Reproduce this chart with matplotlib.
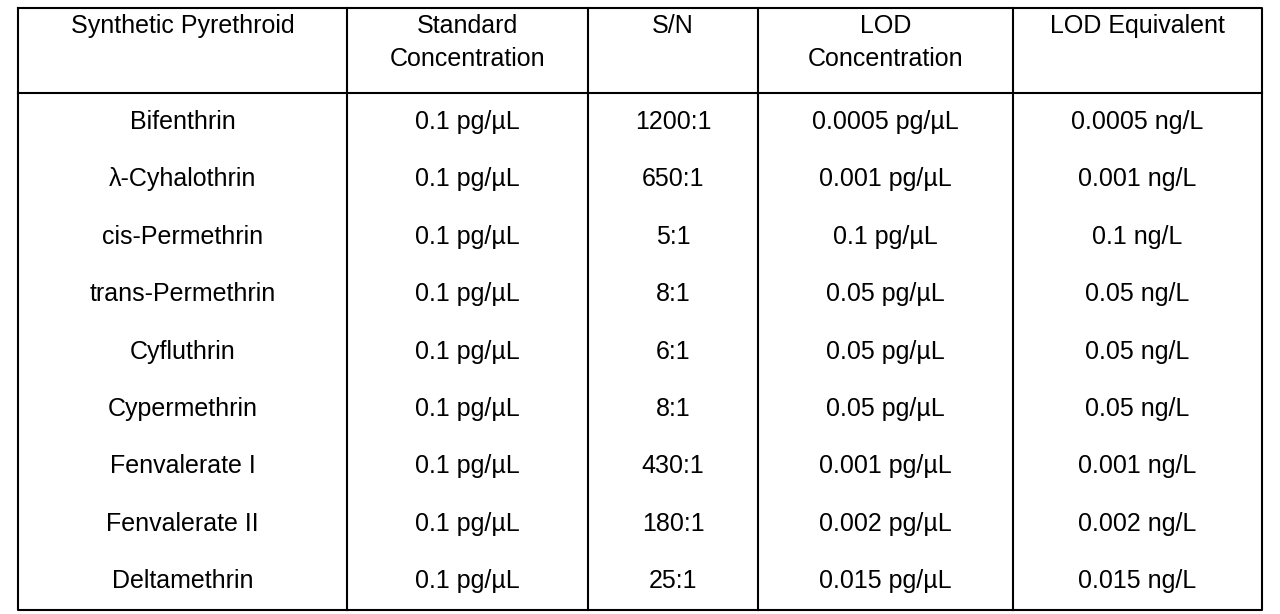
import matplotlib.pyplot as plt

headers = ["Synthetic Pyrethroid", "Standard\nConcentration", "S/N", "LOD\nConcentration", "LOD Equivalent"]
compounds = ["Bifenthrin", "λ-Cyhalothrin", "cis-Permethrin", "trans-Permethrin", "Cyfluthrin",
             "Cypermethrin", "Fenvalerate I", "Fenvalerate II", "Deltamethrin"]
std_conc = ["0.1 pg/µL"] * 9
sn = ["1200:1", "650:1", "5:1", "8:1", "6:1", "8:1", "430:1", "180:1", "25:1"]
lod_conc = ["0.0005 pg/µL", "0.001 pg/µL", "0.1 pg/µL", "0.05 pg/µL", "0.05 pg/µL",
            "0.05 pg/µL", "0.001 pg/µL", "0.002 pg/µL", "0.015 pg/µL"]
lod_eq = ["0.0005 ng/L", "0.001 ng/L", "0.1 ng/L", "0.05 ng/L", "0.05 ng/L",
          "0.05 ng/L", "0.001 ng/L", "0.002 ng/L", "0.015 ng/L"]

col_edges = [18, 347, 588, 758, 1013, 1262]
top, head_bottom, bottom = 8, 93, 610
row_y0, row_step = 122, 57.4

fig = plt.figure(figsize=(12.8, 6.14), dpi=100)
ax = fig.add_axes([0, 0, 1, 1])
ax.set_xlim(0, 1280)
ax.set_ylim(614, 0)
ax.axis("off")

lw = 1.5
ax.plot([col_edges[0], col_edges[-1], col_edges[-1], col_edges[0], col_edges[0]],
        [top, top, bottom, bottom, top], color="black", lw=lw)
for x in col_edges[1:-1]:
    ax.plot([x, x], [top, bottom], color="black", lw=lw)
ax.plot([col_edges[0], col_edges[-1]], [head_bottom, head_bottom], color="black", lw=lw)

fs = 18
for i, h in enumerate(headers):
    cx = (col_edges[i] + col_edges[i + 1]) / 2
    ax.text(cx, 14, h, ha="center", va="top", fontsize=fs, family="Liberation Sans", linespacing=1.45)

columns = [compounds, std_conc, sn, lod_conc, lod_eq]
for i, col in enumerate(columns):
    cx = (col_edges[i] + col_edges[i + 1]) / 2
    for r, val in enumerate(col):
        ax.text(cx, row_y0 + r * row_step, val, ha="center", va="center",
                fontsize=fs, family="Liberation Sans")

fig.savefig("out.png", dpi=100)
